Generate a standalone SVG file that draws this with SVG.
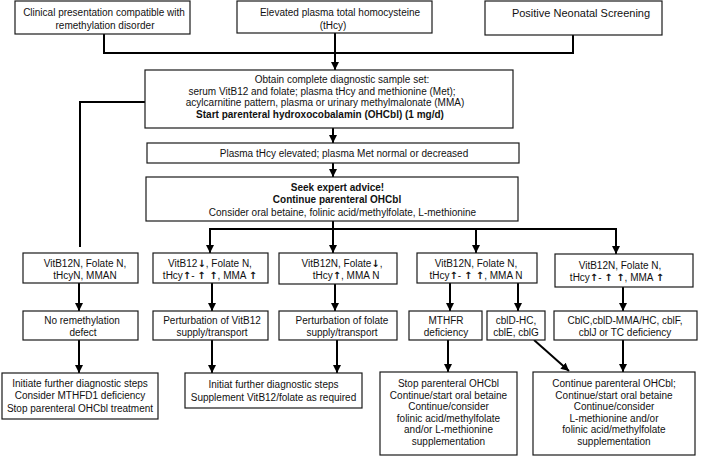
<svg xmlns="http://www.w3.org/2000/svg" width="709" height="457" viewBox="0 0 709 457">
<defs>
<style>
.bx{fill:#fff;stroke:#1a1a1a;stroke-width:1.2}
.t{font-family:"Liberation Sans",Arial,sans-serif;font-size:10px;fill:#111;text-anchor:middle}
.b{font-weight:bold}
.ar{font-family:"DejaVu Sans",sans-serif;font-weight:bold;font-size:10px}
.c{fill:none;stroke:#000;stroke-width:2}
.ca{fill:none;stroke:#000;stroke-width:2;marker-end:url(#ah)}
</style>
<marker id="ah" viewBox="0 0 10 10" refX="10" refY="5" markerWidth="8" markerHeight="8" markerUnits="userSpaceOnUse" orient="auto">
<path d="M0,0 L10,5 L0,10 z" fill="#000"/>
</marker>
</defs>
<rect width="709" height="457" fill="#fff"/>

<g id="connectors">
<polyline class="c" points="104,34 104,53 573,53 573,35"/>
<line class="ca" x1="335" y1="33" x2="335" y2="70"/>
<polyline class="c" points="145,102 80,102 80,247"/>
<line class="ca" x1="333" y1="128" x2="333" y2="143"/>
<line class="ca" x1="333" y1="163" x2="333" y2="177"/>
<polyline class="c" points="333,221 333,229"/>
<line class="c" x1="209" y1="229" x2="617" y2="229"/>
<line class="ca" x1="210" y1="229" x2="210" y2="253"/>
<line class="ca" x1="333" y1="229" x2="333" y2="253"/>
<line class="ca" x1="476" y1="229" x2="476" y2="253"/>
<line class="ca" x1="616" y1="229" x2="616" y2="254"/>
<line class="ca" x1="79" y1="283" x2="79" y2="311"/>
<line class="ca" x1="212" y1="283" x2="212" y2="311"/>
<line class="ca" x1="335" y1="283" x2="335" y2="311"/>
<line class="ca" x1="450" y1="283" x2="450" y2="311"/>
<line class="ca" x1="518" y1="283" x2="518" y2="311"/>
<line class="ca" x1="623" y1="287" x2="623" y2="311"/>
<line class="ca" x1="79" y1="340" x2="79" y2="373"/>
<line class="ca" x1="212" y1="340" x2="212" y2="373"/>
<line class="ca" x1="337" y1="340" x2="337" y2="373"/>
<line class="ca" x1="448" y1="340" x2="448" y2="372"/>
<line class="ca" x1="534" y1="340" x2="569" y2="371"/>
<line class="ca" x1="623" y1="340" x2="623" y2="372"/>
</g>

<g id="n-clinical">
<rect class="bx" x="15" y="1" width="175" height="33"/>
<text class="t" x="104" y="16">Clinical presentation compatible with</text>
<text class="t" x="105" y="28.5">remethylation disorder</text>
</g>
<g id="n-elevated">
<rect class="bx" x="237" y="1" width="195" height="32"/>
<text class="t" x="340" y="16">Elevated plasma total homocysteine</text>
<text class="t" x="333" y="28.5">(tHcy)</text>
</g>
<g id="n-neonatal">
<rect class="bx" x="485" y="1" width="177" height="34"/>
<text class="t" x="581" y="16.5" style="font-size:11px">Positive Neonatal Screening</text>
</g>

<g id="n-sample">
<rect class="bx" x="145" y="70" width="368" height="58"/>
<text class="t" x="342" y="83">Obtain complete diagnostic sample set:</text>
<text class="t" x="322" y="94.5">serum VitB12 and folate; plasma tHcy and methionine (Met);</text>
<text class="t" x="325" y="106">acylcarnitine pattern, plasma or urinary methylmalonate (MMA)</text>
<text class="t b" x="320" y="117.5">Start parenteral hydroxocobalamin (OHCbl) (1 mg/d)</text>
</g>
<g id="n-plasma">
<rect class="bx" x="147" y="143" width="372" height="20"/>
<text class="t" x="344" y="157">Plasma tHcy elevated; plasma Met normal or decreased</text>
</g>
<g id="n-expert">
<rect class="bx" x="146" y="177" width="372" height="44"/>
<text class="t b" x="337.5" y="190.5">Seek expert advice!</text>
<text class="t b" x="337" y="203">Continue parenteral OHCbl</text>
<text class="t" x="342.5" y="215.5">Consider oral betaine, folinic acid/methylfolate, L-methionine</text>
</g>

<g id="n-b1">
<rect class="bx" x="23" y="253" width="115" height="30"/>
<text class="t" x="85" y="266.5">VitB12N, Folate N,</text>
<text class="t" x="85" y="278.5">tHcyN, MMAN</text>
</g>
<g id="n-b2">
<rect class="bx" x="153" y="253" width="115" height="30"/>
<text class="t" x="210" y="266.5">VitB12<tspan class="ar">↓</tspan>, Folate N,</text>
<text class="t" x="210" y="278.5">tHcy<tspan class="ar">↑</tspan>- <tspan class="ar">↑ ↑</tspan>, MMA <tspan class="ar">↑</tspan></text>
</g>
<g id="n-b3">
<rect class="bx" x="279" y="253" width="118" height="31"/>
<text class="t" x="342" y="266.5">VitB12N, Folate<tspan class="ar">↓</tspan>,</text>
<text class="t" x="346" y="278.5">tHcy<tspan class="ar">↑</tspan>, MMA N</text>
</g>
<g id="n-b4">
<rect class="bx" x="417" y="253" width="120" height="30"/>
<text class="t" x="476" y="266.5">VitB12N, Folate N,</text>
<text class="t" x="476" y="278.5">tHcy<tspan class="ar">↑</tspan>- <tspan class="ar">↑ ↑</tspan>, MMA N</text>
</g>
<g id="n-b5">
<rect class="bx" x="555" y="254" width="138" height="33"/>
<text class="t" x="620" y="268.5">VitB12N, Folate N,</text>
<text class="t" x="617" y="281">tHcy<tspan class="ar">↑</tspan>- <tspan class="ar">↑ ↑</tspan>, MMA <tspan class="ar">↑</tspan></text>
</g>

<g id="n-noremeth">
<rect class="bx" x="23" y="311" width="115" height="29"/>
<text class="t" x="82" y="324">No remethylation</text>
<text class="t" x="83" y="336">defect</text>
</g>
<g id="n-pvitb12">
<rect class="bx" x="153" y="311" width="115" height="29"/>
<text class="t" x="212" y="324">Perturbation of VitB12</text>
<text class="t" x="212" y="336">supply/transport</text>
</g>
<g id="n-pfolate">
<rect class="bx" x="279" y="311" width="118" height="29"/>
<text class="t" x="342" y="324">Perturbation of folate</text>
<text class="t" x="342" y="336">supply/transport</text>
</g>
<g id="n-mthfr">
<rect class="bx" x="409" y="311" width="73" height="29"/>
<text class="t" x="446" y="324">MTHFR</text>
<text class="t" x="446" y="336">deficiency</text>
</g>
<g id="n-cbld">
<rect class="bx" x="487" y="311" width="58" height="29"/>
<text class="t" x="516" y="324">cblD-HC,</text>
<text class="t" x="516" y="336">cblE, cblG</text>
</g>
<g id="n-cblc">
<rect class="bx" x="554" y="311" width="143" height="29"/>
<text class="t" x="625" y="324">CblC,cblD-MMA/HC, cblF,</text>
<text class="t" x="625" y="336">cblJ or TC deficiency</text>
</g>

<g id="n-initiate">
<rect class="bx" x="2" y="373" width="156" height="46"/>
<text class="t" x="80" y="386.5">Initiate further diagnostic steps</text>
<text class="t" x="80" y="399">Consider MTHFD1 deficiency</text>
<text class="t" x="80" y="411.5">Stop parenteral OHCbl treatment</text>
</g>
<g id="n-initiat">
<rect class="bx" x="185" y="373" width="177" height="35"/>
<text class="t" x="273.5" y="387.5">Initiat further diagnostic steps</text>
<text class="t" x="273.5" y="400.5">Supplement VitB12/folate as required</text>
</g>
<g id="n-stop">
<rect class="bx" x="380" y="372" width="137" height="83"/>
<text class="t" x="448.5" y="387">Stop parenteral OHCbl</text>
<text class="t" x="448.5" y="398.5">Continue/start oral betaine</text>
<text class="t" x="448.5" y="410">Continue/consider</text>
<text class="t" x="448.5" y="421.5">folinic acid/methylfolate</text>
<text class="t" x="448.5" y="433">and/or L-methionine</text>
<text class="t" x="448.5" y="444.5">supplementation</text>
</g>
<g id="n-continue">
<rect class="bx" x="533" y="372" width="162" height="83"/>
<text class="t" x="614" y="387">Continue parenteral OHCbl;</text>
<text class="t" x="614" y="398.5">Continue/start oral betaine</text>
<text class="t" x="614" y="410">Continue/consider</text>
<text class="t" x="614" y="421.5">L-methionine and/or</text>
<text class="t" x="614" y="433">folinic acid/methylfolate</text>
<text class="t" x="614" y="444.5">supplementation</text>
</g>
</svg>
